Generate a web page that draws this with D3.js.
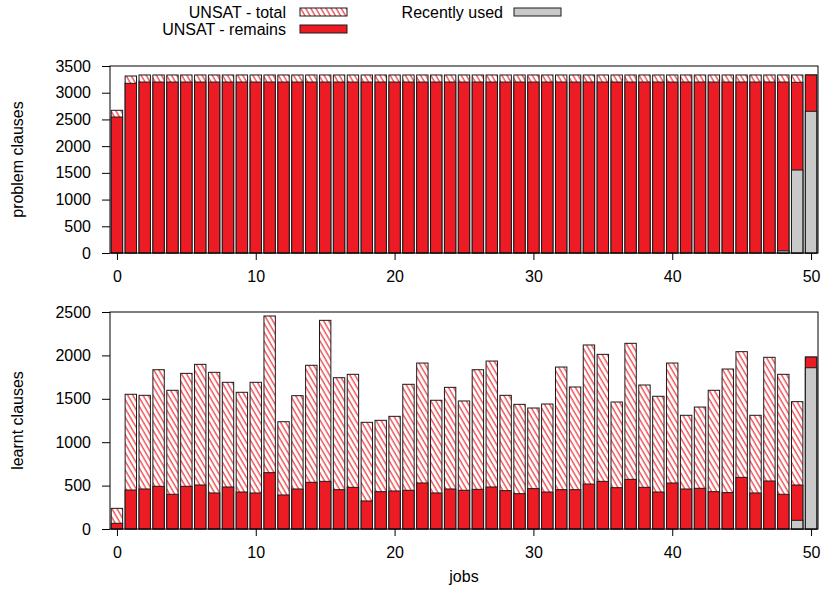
<!DOCTYPE html>
<html lang="en">
  <head>
    <meta charset="utf-8">
    <script src="https://d3js.org/d3.v7.min.js"></script>
    <title>Clauses per job</title>
    <style>
      body {
        margin: 0;
        background-color: #ffffff;
      }
      svg {
        display: block;
        font-family: "Liberation Sans", Arial, sans-serif;
        font-size: 16px;
      }
      .frame {
        fill: none;
        stroke: #000;
        stroke-width: 1;
      }
      .bar {
        stroke: #1a1a1a;
        stroke-width: 1;
      }
      .axis text {
        font-family: "Liberation Sans", Arial, sans-serif;
        font-size: 16px;
        fill: #000;
      }
      .axis line {
        stroke: #000;
      }
    </style>
  </head>
  <body>
    <div class="chartHolder"></div>
    <script>
      // job indices 0..50
      const jobs = d3.range(0, 51);

      // problem clauses (top panel)
      const problemTotal = [2671, 3313, 3332, 3332, 3332, 3332, 3332, 3332, 3332, 3332,
                            3332, 3332, 3332, 3332, 3332, 3332, 3332, 3332, 3332, 3332,
                            3332, 3332, 3332, 3332, 3332, 3332, 3332, 3332, 3332, 3332,
                            3332, 3332, 3332, 3332, 3332, 3332, 3332, 3332, 3332, 3332,
                            3332, 3332, 3332, 3332, 3332, 3332, 3332, 3332, 3332, 3332,
                            3332];
      const problemRemains = [2545, 3176, 3200, 3200, 3200, 3200, 3200, 3200, 3200, 3200,
                              3200, 3200, 3200, 3200, 3200, 3200, 3200, 3200, 3200, 3200,
                              3200, 3200, 3200, 3200, 3200, 3200, 3200, 3200, 3200, 3200,
                              3200, 3200, 3200, 3200, 3200, 3200, 3200, 3200, 3200, 3200,
                              3200, 3200, 3200, 3200, 3200, 3200, 3200, 3200, 3200, 3195,
                              3332];
      const problemRecent = [0, 0, 0, 0, 0, 0, 0, 0, 0, 0,
                             0, 0, 0, 0, 0, 0, 0, 0, 0, 0,
                             0, 0, 0, 0, 0, 0, 0, 0, 0, 0,
                             0, 0, 0, 0, 0, 0, 0, 0, 0, 0,
                             0, 0, 0, 0, 0, 0, 0, 0, 40, 1553,
                             2652];

      // learnt clauses (bottom panel)
      const learntTotal = [238, 1552, 1540, 1835, 1598, 1793, 1897, 1805, 1690, 1575,
                           1690, 2454, 1236, 1536, 1886, 2404, 1743, 1782, 1229, 1252,
                           1298, 1667, 1912, 1483, 1632, 1475, 1835, 1935, 1540, 1436,
                           1394, 1440, 1866, 1636, 2120, 2012, 1463, 2139, 1659, 1529,
                           1912, 1310, 1405, 1598, 1843, 2043, 1310, 1978, 1782, 1467,
                           1981];
      const learntRemains = [66, 449, 461, 492, 400, 492, 507, 415, 484, 426,
                             415, 649, 392, 461, 538, 549, 453, 480, 323, 430,
                             438, 446, 530, 415, 461, 446, 457, 484, 442, 407,
                             465, 426, 453, 453, 518, 549, 476, 572, 480, 426,
                             530, 461, 469, 430, 419, 595, 415, 553, 400, 507,
                             1981];
      const learntRecent = [0, 0, 0, 0, 0, 0, 0, 0, 0, 0,
                            0, 0, 0, 0, 0, 0, 0, 0, 0, 0,
                            0, 0, 0, 0, 0, 0, 0, 0, 0, 0,
                            0, 0, 0, 0, 0, 0, 0, 0, 0, 0,
                            0, 0, 0, 0, 0, 0, 0, 0, 0, 100,
                            1858];

      const xTicks = [0, 10, 20, 30, 40, 50];
      const problemTicks = [0, 500, 1000, 1500, 2000, 2500, 3000, 3500];
      const learntTicks = [0, 500, 1000, 1500, 2000, 2500];

      const legendLabels = ['UNSAT - total', 'UNSAT - remains', 'Recently used'];

      const red = '#ed1c24';
      const grey = '#c9c9c9';

      const svgSize = {'width': 829, 'height': 591};
      const plotX = {'left': 110, 'right': 818};
      const panels = [
        {'top': 66, 'bottom': 253, 'max': 3500, 'ticks': problemTicks, 'label': 'problem clauses',
         'total': problemTotal, 'remains': problemRemains, 'recent': problemRecent},
        {'top': 312, 'bottom': 529, 'max': 2500, 'ticks': learntTicks, 'label': 'learnt clauses',
         'total': learntTotal, 'remains': learntRemains, 'recent': learntRecent}
      ];
      const barWidth = 0.82;

      let svg = d3.select('.chartHolder')
        .append('svg')
        .attr('width', svgSize.width)
        .attr('height', svgSize.height);

      let defs = svg.append('defs');
      let pattern = defs.append('pattern')
        .attr('id', 'hatch')
        .attr('patternUnits', 'userSpaceOnUse')
        .attr('width', 4.4)
        .attr('height', 10)
        .attr('patternTransform', 'rotate(-30)');
      pattern.append('rect')
        .attr('width', 4.4)
        .attr('height', 10)
        .attr('fill', '#fff');
      pattern.append('line')
        .attr('x1', 1).attr('y1', 0)
        .attr('x2', 1).attr('y2', 10)
        .attr('stroke', red)
        .attr('stroke-width', 1.1);

      let xScale = d3.scaleLinear()
        .domain([-0.5, 50.5])
        .range([plotX.left, plotX.right]);

      panels.forEach((p) => {
        let yScale = d3.scaleLinear()
          .domain([0, p.max])
          .range([p.bottom, p.top]);

        let g = svg.append('g');

        const layers = [
          {'values': p.total, 'fill': 'url(#hatch)'},
          {'values': p.remains, 'fill': red},
          {'values': p.recent, 'fill': grey}
        ];

        layers.forEach((layer) => {
          g.selectAll(null)
            .data(jobs.filter((j) => layer.values[j] > 0))
            .enter()
            .append('rect')
              .attr('class', 'bar')
              .attr('x', (j) => xScale(j - barWidth / 2))
              .attr('width', xScale(barWidth) - xScale(0))
              .attr('y', (j) => yScale(layer.values[j]))
              .attr('height', (j) => yScale(0) - yScale(layer.values[j]))
              .attr('fill', layer.fill);
        });

        let yAxis = d3.axisLeft(yScale)
          .tickValues(p.ticks)
          .tickSize(8)
          .tickPadding(11)
          .tickFormat(d3.format('d'));
        let xAxis = d3.axisBottom(xScale)
          .tickValues(xTicks)
          .tickSize(7)
          .tickPadding(11)
          .tickFormat(d3.format('d'));

        svg.append('g')
          .attr('class', 'axis')
          .attr('transform', 'translate(' + plotX.left + ', 0)')
          .call(yAxis)
          .call((a) => a.select('.domain').remove());
        svg.append('g')
          .attr('class', 'axis')
          .attr('transform', 'translate(0, ' + p.bottom + ')')
          .call(xAxis)
          .call((a) => a.select('.domain').remove());

        svg.append('rect')
          .attr('class', 'frame')
          .attr('x', plotX.left)
          .attr('y', p.top)
          .attr('width', plotX.right - plotX.left)
          .attr('height', p.bottom - p.top);

        svg.append('text')
          .attr('transform', 'translate(23, ' + ((p.top + p.bottom) / 2) + ') rotate(-90)')
          .attr('text-anchor', 'middle')
          .text(p.label);
      });

      svg.append('text')
        .attr('x', (plotX.left + plotX.right) / 2)
        .attr('y', 582)
        .attr('text-anchor', 'middle')
        .text('jobs');

      // legend
      const legendItems = [
        {'label': legendLabels[0], 'fill': 'url(#hatch)', 'tx': 286, 'bx': 300, 'y': 12},
        {'label': legendLabels[1], 'fill': red, 'tx': 286, 'bx': 300, 'y': 29},
        {'label': legendLabels[2], 'fill': grey, 'tx': 503, 'bx': 514, 'y': 12}
      ];
      let legend = svg.append('g');
      legendItems.forEach((item) => {
        legend.append('text')
          .attr('x', item.tx)
          .attr('y', item.y)
          .attr('dy', '0.36em')
          .attr('text-anchor', 'end')
          .text(item.label);
        legend.append('rect')
          .attr('class', 'bar')
          .attr('x', item.bx)
          .attr('y', item.y - 4)
          .attr('width', 47)
          .attr('height', 8)
          .attr('fill', item.fill);
      });
    </script>
  </body>
</html>
